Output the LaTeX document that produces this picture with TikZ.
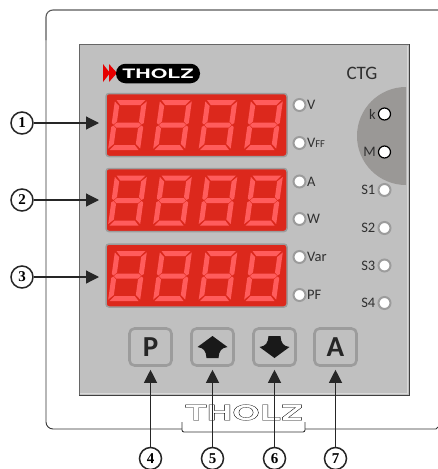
\documentclass[tikz,border=0pt]{standalone}
\usepackage{fontspec}
\setmainfont{Carlito}
\newfontfamily\logofont{TeX Gyre Heros}
\newfontfamily\callfont{Liberation Serif}
\usetikzlibrary{arrows.meta}

\definecolor{panelgrey}{HTML}{C0C0C0}
\definecolor{ringgrey}{HTML}{9C9C9C}
\definecolor{discgrey}{HTML}{9A9896}
\definecolor{dispred}{HTML}{DC281C}
\definecolor{segred}{HTML}{FF5C5C}
\definecolor{labelgrey}{HTML}{303030}

\tikzset{
  display/.style={draw=ringgrey, line width=1.5pt, fill=dispred, rounded corners=3pt,
    minimum width=181pt, minimum height=63pt, inner sep=0pt},
  led/.style={circle, draw=ringgrey, line width=2pt, fill=white, minimum size=12pt, inner sep=0pt},
  ledon/.style={led, draw=black, line width=1.2pt},
  ledtext/.style={text=labelgrey, font=\fontsize{14.5}{14.5}\selectfont, inner sep=0pt},
  keybox/.style={draw=ringgrey, line width=2.6pt, rounded corners=5pt,
    minimum width=42pt, minimum height=37pt, inner sep=0pt},
  keytext/.style={keybox, font=\bfseries\fontsize{29}{29}\selectfont, text=black!85},
  callout/.style={circle, draw=black!85, line width=1.5pt, fill=white, minimum size=22pt, inner sep=0pt,
    font=\callfont\bfseries\fontsize{15}{15}\selectfont},
  pointer/.style={-{Triangle[length=13pt,width=13pt]}, line width=1.2pt, draw=black!85},
  sevenseg/.pic={
    \foreach \seg in {
      {(1.5,0)--(30.5,0)--(26,5)--(6,5)},
      {(5,22.5)--(27,22.5)--(29.5,25)--(27,27.5)--(5,27.5)--(2.5,25)},
      {(1.5,50)--(30.5,50)--(26,45)--(6,45)},
      {(0,1.5)--(5,6)--(5,21.5)--(2,24.5)--(0,23)},
      {(32,1.5)--(27,6)--(27,21.5)--(30,24.5)--(32,23)},
      {(0,48.5)--(5,44)--(5,28.5)--(2,25.5)--(0,27)},
      {(32,48.5)--(27,44)--(27,28.5)--(30,25.5)--(32,27)}} {
      \fill[segred] \seg -- cycle;
    }
  },
}

\begin{document}
\begin{tikzpicture}[x=1pt, y=-1pt]
    \useasboundingbox (0,0) rectangle (438,469);

    % 1) Outer case, open at the bottom around the lower logo
    \draw[line width=0.9pt, black!80, rounded corners=7pt] (182,429) -- (46,429) -- (46,40);
    \draw[line width=1.1pt, black!65, rounded corners=7pt] (46,40) -- (46,10) -- (438,10);
    \draw[line width=0.9pt, black!80, rounded corners=2pt] (182,422) -- (182,432) -- (305,432) -- (305,422);
    \draw[line width=0.9pt, black!80] (305,429) -- (436,429) -- (438,427);

    % 2) Front panel and the half disc on its right side
    \fill[panelgrey] (79,44) rectangle (409,395);
    \begin{scope}
      \clip (79,44) rectangle (406,395);
      \fill[discgrey] (406,136) circle (49);
    \end{scope}
    \draw[black!60, line width=0.8pt] (79,395) -- (79,44) -- (409,44);
    \draw[black!75, line width=1pt] (409,44) -- (409,395) -- (79,395);
    \draw[white!85!black, line width=0.8pt] (407,46) -- (407,393.5) -- (80,393.5);

    % 3) Logo on the panel
    \fill[red!90!black] (103,64) -- (110,73) -- (103,82) -- cycle;
    \fill[red!90!black] (109,64) -- (117,73) -- (109,82) -- cycle;
    \node[fill=black, rounded corners=9.5pt, minimum width=84pt, minimum height=19.5pt, inner sep=0pt]
      (logotop) at (158,73.5) {};
    \node[text=white, font=\logofont\bfseries\fontsize{13}{13}\selectfont, xscale=1.64, inner sep=0pt]
      (logotext) at (158,73.5) {THOLZ};
    \node[text=labelgrey, font=\fontsize{19}{19}\selectfont, inner sep=0pt] (ctg) at (362,73) {CTG};

    % 4) The three displays with their digits
    \foreach \row/\ymid/\ytop in {1/125/100,2/200/175.5,3/275.5/251} {
      \node[display] (disp\row) at (196.5,\ymid) {};
      \foreach \xleft in {115,160,205.5,251} {
        \pic[xslant=0.14] at (\xleft,\ytop) {sevenseg};
      }
    }

    % 5) Lamps next to the displays
    \foreach \name/\ypos/\txt in {v/105/V,vff/143/V{\fontsize{10.5}{10.5}\selectfont FF},a/181.5/A,w/219/W,var/257/Var,pf/295/PF} {
      \node[led] (led\name) at (299.5,\ypos) {};
      \node[ledtext, anchor=west] (txt\name) at ([xshift=0.5pt]led\name.east) {\txt};
    }

    % 6) Lamps in the right column
    \foreach \name/\ypos/\txt/\look in {k/114/k/ledon,m/152/M/ledon,one/190/S1/led,two/228/S2/led,three/265.5/S3/led,four/303/S4/led} {
      \node[\look] (led\name) at (384.5,\ypos) {};
      \node[ledtext, anchor=east] (txt\name) at ([xshift=-2pt]led\name.west) {\txt};
    }

    % 7) Keys
    \node[keytext] (keyp) at (150.5,347) {P};
    \node[keybox] (keyup) at (212.5,347) {};
    \node[keybox] (keydown) at (274.5,347) {};
    \node[keytext] (keya) at (335.5,347) {A};
    \fill[black!90] (212.5,336) -- (227.5,347) .. controls (221,348) and (219,351) .. (218.5,358)
      -- (206.5,358) .. controls (206,351) and (204,348) .. (197.5,347) -- cycle;
    \fill[black!90] (274.5,358) -- (289.5,347) .. controls (283,346) and (281,343) .. (280.5,336)
      -- (268.5,336) .. controls (268,343) and (266,346) .. (259.5,347) -- cycle;

    % 8) Outlined logo under the panel
    \node[font=\logofont\bfseries\fontsize{21}{21}\selectfont, xscale=1.68, inner sep=0pt] (logobottom) at (244,412.5)
      {\special{pdf:code 1 Tr 0.25 w}THOLZ\special{pdf:code 0 Tr}};

    % 9) Numbered callouts and their pointers
    \foreach \num/\ypos in {1/123,2/200,3/277} {
      \node[callout] (call\num) at (22,\ypos) {\num};
      \draw[pointer] (call\num.east) -- (99,\ypos);
    }
    \node[callout] (call4) at (150.5,458.5) {4};
    \node[callout] (call5) at (212.5,458.5) {5};
    \node[callout] (call6) at (274.5,458.5) {6};
    \node[callout] (call7) at (335.5,458.5) {7};
    \draw[pointer] (call4) -- ([yshift=-3pt]keyp.south);
    \draw[pointer] (call5) -- ([yshift=-3pt]keyup.south);
    \draw[pointer] (call6) -- ([yshift=-3pt]keydown.south);
    \draw[pointer] (call7) -- ([yshift=-3pt]keya.south);
\end{tikzpicture}
\end{document}
